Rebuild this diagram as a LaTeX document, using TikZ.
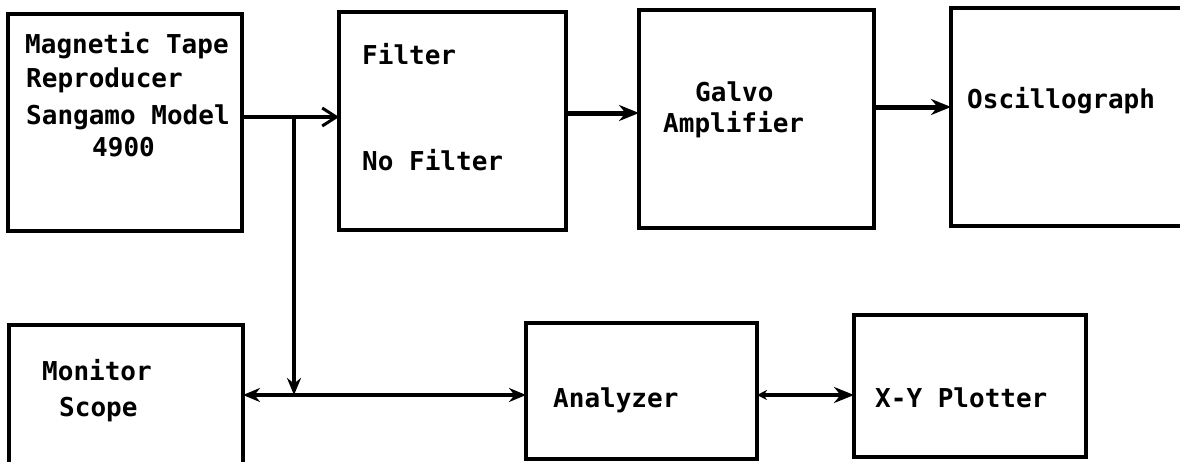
\documentclass[tikz,border=0pt]{standalone}
\usepackage{fontspec}
\setmainfont{DejaVu Sans Mono}
\usetikzlibrary{arrows.meta}
\begin{document}
\begin{tikzpicture}[x=1pt,y=-1pt,
  box/.style={draw,line width=3.2pt,anchor=north west,inner sep=0pt,outer sep=0pt},
  lbl/.style={anchor=base west,inner sep=0pt,font=\fontsize{26}{30}\selectfont\bfseries},
  conn/.style={line width=5pt,-{Stealth[length=20pt,width=16pt]}},
  thin/.style={line width=3.6pt,-{Stealth[length=17pt,width=14pt]}}]
\useasboundingbox (0,0) rectangle (1180,461);
% boxes
\node[box,minimum width=234pt,minimum height=217pt] (tape) at (8,14) {};
\node[box,minimum width=227pt,minimum height=218pt] (filter) at (339,12) {};
\node[box,minimum width=235pt,minimum height=218pt] (galvo) at (639,10) {};
\node[box,minimum width=233pt,minimum height=218pt] (osc) at (951,8) {};
\node[box,minimum width=234pt,minimum height=150pt] (monitor) at (9,325) {};
\node[box,minimum width=231pt,minimum height=136pt] (analyzer) at (526,323) {};
\node[box,minimum width=232pt,minimum height=142pt] (plotter) at (854,315) {};
% labels
\node[lbl] (t1) at (25,53) {Magnetic Tape};
\node[lbl] (t2) at (26,87) {Reproducer};
\node[lbl] (t3) at (26,124) {Sangamo Model};
\node[lbl] (t4) at (92,156) {4900};
\node[lbl] (f1) at (362,64) {Filter};
\node[lbl] (f2) at (362,170) {No Filter};
\node[lbl] (g1) at (695,101) {Galvo};
\node[lbl] (g2) at (663,132) {Amplifier};
\node[lbl] (o1) at (967,108) {Oscillograph};
\node[lbl] (m1) at (42,380) {Monitor};
\node[lbl] (m2) at (59,416) {Scope};
\node[lbl] (a1) at (553,407) {Analyzer};
\node[lbl] (p1) at (875,407) {X-Y Plotter};
% junction points
\coordinate (j1) at (294,117);
\coordinate (j2) at (294,395);
\coordinate (r2) at (600,113);
\coordinate (r3) at (900,107);
% connectors
\draw[line width=4.5pt,-{Straight Barb[length=14pt,width=18pt,line width=3pt]}] (tape.east |- j1) -- (filter.west |- j1);
\draw[conn] (filter.east |- r2) -- (galvo.west |- r2);
\draw[conn] (galvo.east |- r3) -- (osc.west |- r3);
\draw[thin] (j1) -- (j2);
\draw[thin] (j2) -- (monitor.east |- j2);
\draw[thin] (j2) -- (analyzer.west |- j2);
\draw[line width=4.5pt,{Stealth[length=10pt,width=10pt]}-{Stealth[length=20pt,width=16pt]}] (analyzer.east |- j2) -- (plotter.west |- j2);
\end{tikzpicture}
\end{document}
